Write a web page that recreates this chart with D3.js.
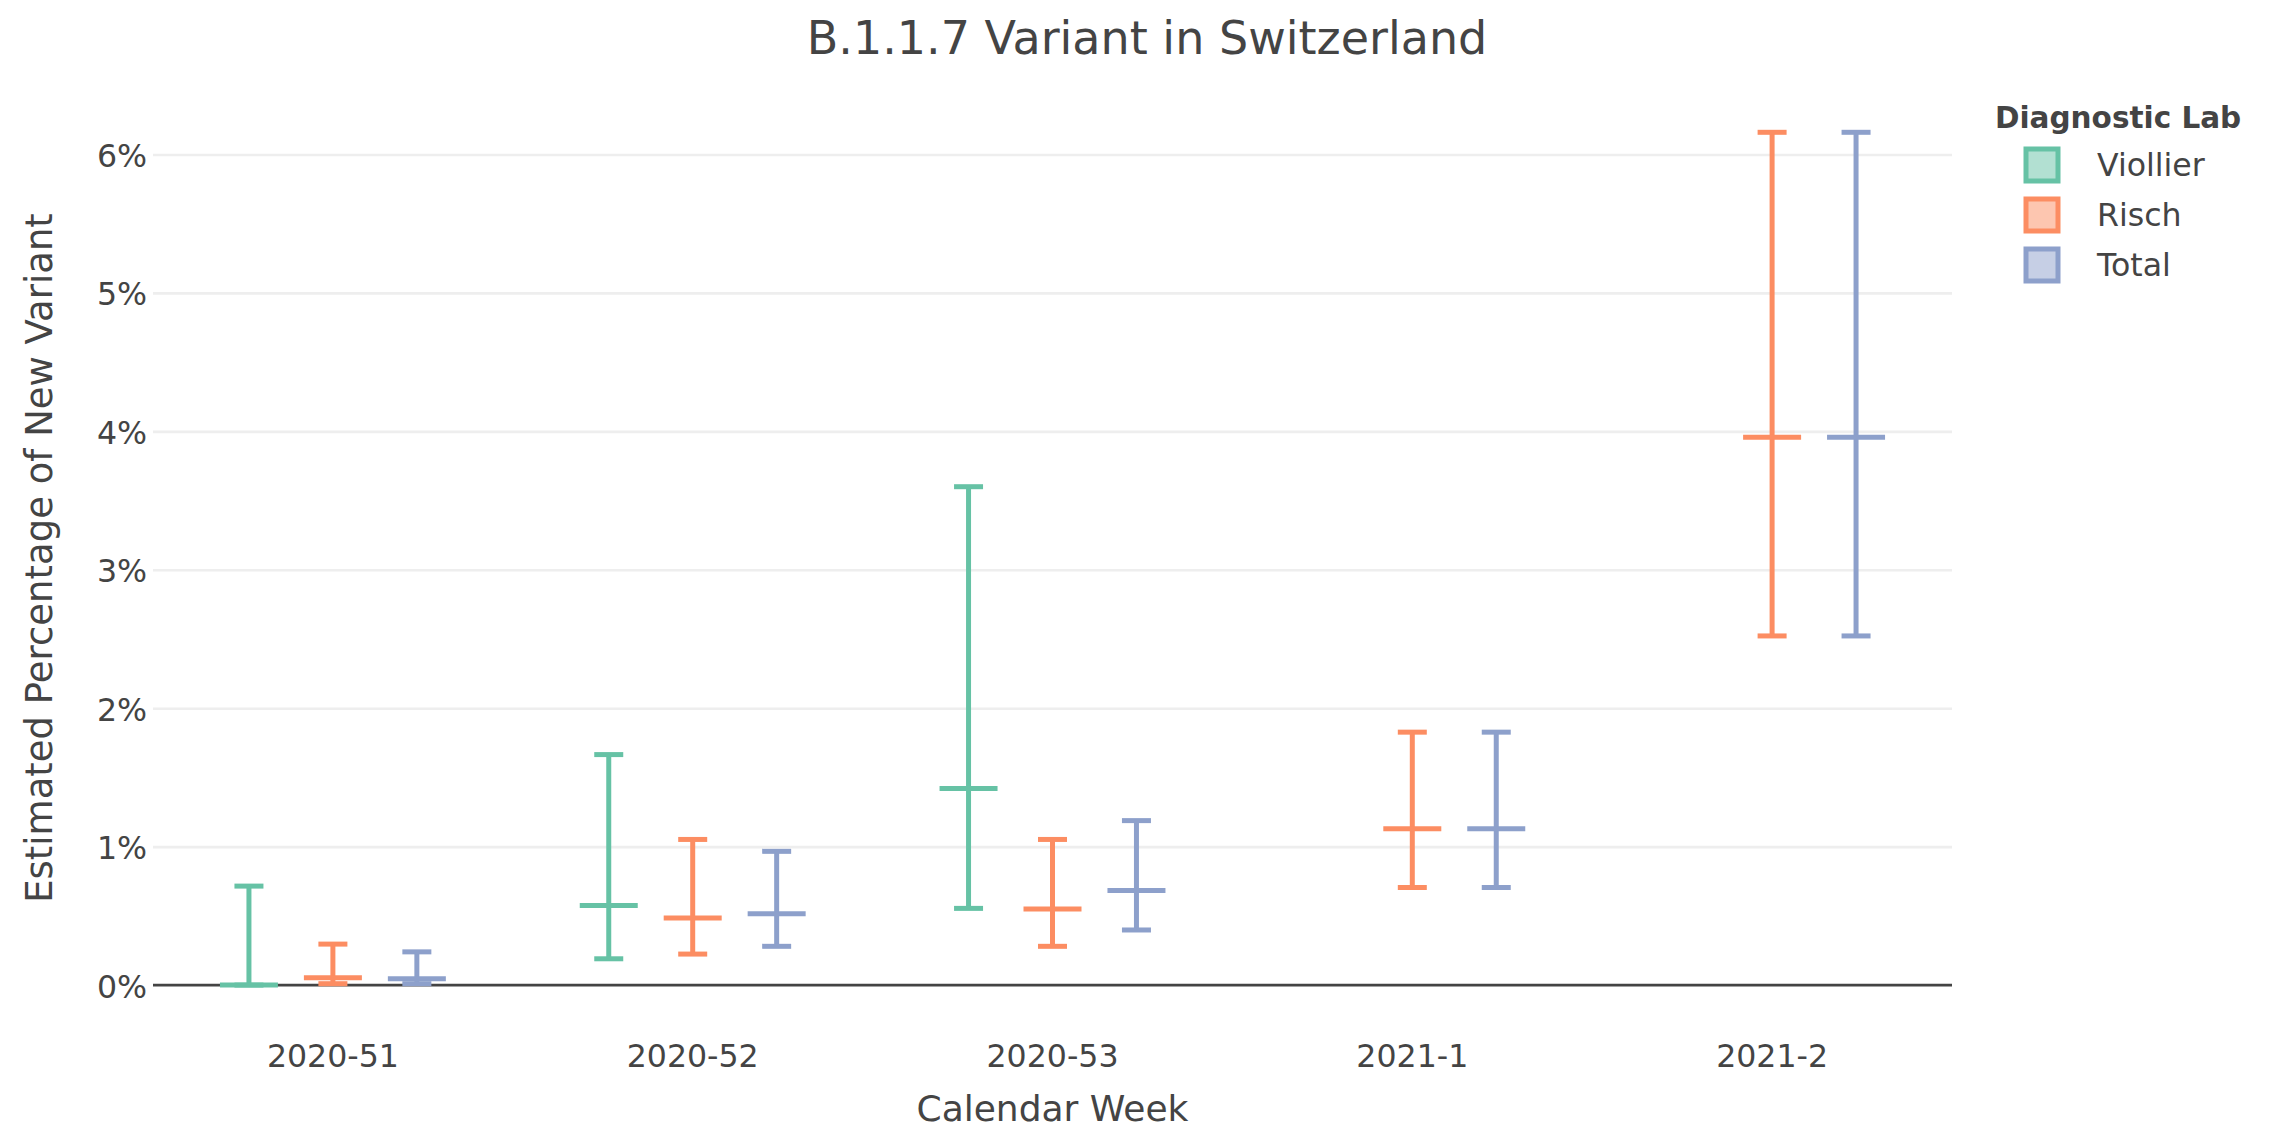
<!DOCTYPE html>
<html>
<head>
<meta charset="utf-8">
<script src="https://cdn.jsdelivr.net/npm/d3@7"></script>
<style>
  html, body { margin: 0; padding: 0; background: #fff; }
  svg { display: block; font-family: 'DejaVu Sans', Verdana, sans-serif; }
</style>
</head>
<body>
<div id="chart"></div>
<script>
// calendar weeks and labs
const weeks = ['2020-51', '2020-52', '2020-53', '2021-1', '2021-2'];
const labs = ['Viollier', 'Risch', 'Total'];
const labColors = ['#66c2a5', '#fc8d62', '#8da0cb'];

// estimated percentage (median) and interval, per lab, per week
const viollierMid = [0, 0.575, 1.42, null, null];
const viollierLow = [0, 0.19, 0.554, null, null];
const viollierHigh = [0.715, 1.665, 3.6, null, null];

const rischMid = [0.053, 0.484, 0.549, 1.13, 3.958];
const rischLow = [0.01, 0.224, 0.28, 0.705, 2.522];
const rischHigh = [0.296, 1.052, 1.052, 1.827, 6.16];

const totalMid = [0.046, 0.515, 0.684, 1.13, 3.958];
const totalLow = [0.01, 0.28, 0.398, 0.705, 2.522];
const totalHigh = [0.24, 0.966, 1.188, 1.827, 6.16];

const yTicks = [0, 1, 2, 3, 4, 5, 6];

const chartW = 2282;
const chartH = 1132;
const plotLeft = 153;
const plotRight = 1952;
const plotTop = 88;
const plotBottom = 1028;

const mids = [viollierMid, rischMid, totalMid];
const lows = [viollierLow, rischLow, totalLow];
const highs = [viollierHigh, rischHigh, totalHigh];

const rows = [];
labs.forEach((lab, i) => {
  weeks.forEach((w, j) => {
    if (mids[i][j] == null) return;
    rows.push({
      lab, week: w, mid: mids[i][j], low: lows[i][j], high: highs[i][j], color: labColors[i],
    });
  });
});

const svg = d3.select('#chart')
  .append('svg')
  .attr('width', chartW)
  .attr('height', chartH);

const x = d3.scaleBand()
  .domain(weeks)
  .range([plotLeft, plotRight])
  .paddingInner(0.3)
  .paddingOuter(0.15);

const xInner = d3.scaleBand()
  .domain(labs)
  .range([0, x.bandwidth()]);

const y = d3.scaleLinear()
  .domain([-0.31, 6.48])
  .range([plotBottom, plotTop]);

const boxW = 58;
const capW = 29;

// grid lines
svg.append('g')
  .attr('class', 'grid')
  .attr('transform', `translate(${plotLeft},0)`)
  .call(d3.axisLeft(y).tickValues(yTicks.filter((t) => t !== 0))
    .tickSize(-(plotRight - plotLeft)).tickFormat(''))
  .call((g) => g.select('.domain').remove())
  .call((g) => g.selectAll('line').attr('stroke', '#eeeeee').attr('stroke-width', 2.6));

// zero line
svg.append('line')
  .attr('x1', plotLeft)
  .attr('x2', plotRight)
  .attr('y1', y(0))
  .attr('y2', y(0))
  .attr('stroke', '#444')
  .attr('stroke-width', 2.6);

// y axis labels
svg.append('g')
  .attr('transform', `translate(${plotLeft},0)`)
  .call(d3.axisLeft(y).tickValues(yTicks).tickSize(0).tickPadding(6).tickFormat((d) => `${d}%`))
  .call((g) => g.select('.domain').remove())
  .call((g) => g.selectAll('text')
    .attr('fill', '#444')
    .style('font-size', '31.6px')
    .style('font-family', "'DejaVu Sans', Verdana, sans-serif")
    .attr('dy', '0.38em'));

// x axis labels
svg.append('g')
  .attr('transform', `translate(0,${plotBottom})`)
  .call(d3.axisBottom(x).tickSize(0).tickPadding(17))
  .call((g) => g.select('.domain').remove())
  .call((g) => g.selectAll('text')
    .attr('fill', '#444')
    .style('font-size', '31.6px')
    .style('font-family', "'DejaVu Sans', Verdana, sans-serif"));

// interval marks
const marks = svg.append('g')
  .selectAll('g')
  .data(rows)
  .enter()
  .append('g')
  .attr('transform', (d) => `translate(${x(d.week) + xInner(d.lab) + xInner.bandwidth() / 2},0)`)
  .attr('stroke', (d) => d.color)
  .attr('stroke-width', 5)
  .attr('fill', 'none');

marks.append('line')
  .attr('x1', 0)
  .attr('x2', 0)
  .attr('y1', (d) => y(d.low))
  .attr('y2', (d) => y(d.high));

marks.append('line')
  .attr('x1', -capW / 2)
  .attr('x2', capW / 2)
  .attr('y1', (d) => y(d.high))
  .attr('y2', (d) => y(d.high));

marks.append('line')
  .attr('x1', -capW / 2)
  .attr('x2', capW / 2)
  .attr('y1', (d) => y(d.low))
  .attr('y2', (d) => y(d.low));

marks.append('line')
  .attr('x1', -boxW / 2)
  .attr('x2', boxW / 2)
  .attr('y1', (d) => y(d.mid))
  .attr('y2', (d) => y(d.mid));

// title
svg.append('text')
  .attr('x', 1147)
  .attr('y', 54)
  .attr('text-anchor', 'middle')
  .attr('fill', '#444')
  .style('font-size', '46px')
  .text('B.1.1.7 Variant in Switzerland');

// axis titles
svg.append('text')
  .attr('x', (plotLeft + plotRight) / 2)
  .attr('y', 1121)
  .attr('text-anchor', 'middle')
  .attr('fill', '#444')
  .style('font-size', '36px')
  .text('Calendar Week');

svg.append('text')
  .attr('transform', `translate(52,${(plotTop + plotBottom) / 2}) rotate(-90)`)
  .attr('text-anchor', 'middle')
  .attr('fill', '#444')
  .style('font-size', '37px')
  .text('Estimated Percentage of New Variant');

// legend
const legend = svg.append('g')
  .attr('transform', 'translate(1995,0)');

legend.append('text')
  .attr('x', 0)
  .attr('y', 128)
  .attr('fill', '#444')
  .style('font-size', '29.5px')
  .style('font-weight', 'bold')
  .text('Diagnostic Lab');

const item = legend.selectAll('.item')
  .data(labs)
  .enter()
  .append('g')
  .attr('class', 'item')
  .attr('transform', (d, i) => `translate(0,${165 + i * 50})`);

item.append('rect')
  .attr('x', 31)
  .attr('y', -16)
  .attr('width', 32)
  .attr('height', 32)
  .attr('fill', (d, i) => labColors[i])
  .attr('fill-opacity', 0.5)
  .attr('stroke', (d, i) => labColors[i])
  .attr('stroke-width', 5);

item.append('text')
  .attr('x', 102)
  .attr('y', 0)
  .attr('dy', '0.36em')
  .attr('fill', '#444')
  .style('font-size', '31.6px')
  .text((d) => d);
</script>
</body>
</html>
